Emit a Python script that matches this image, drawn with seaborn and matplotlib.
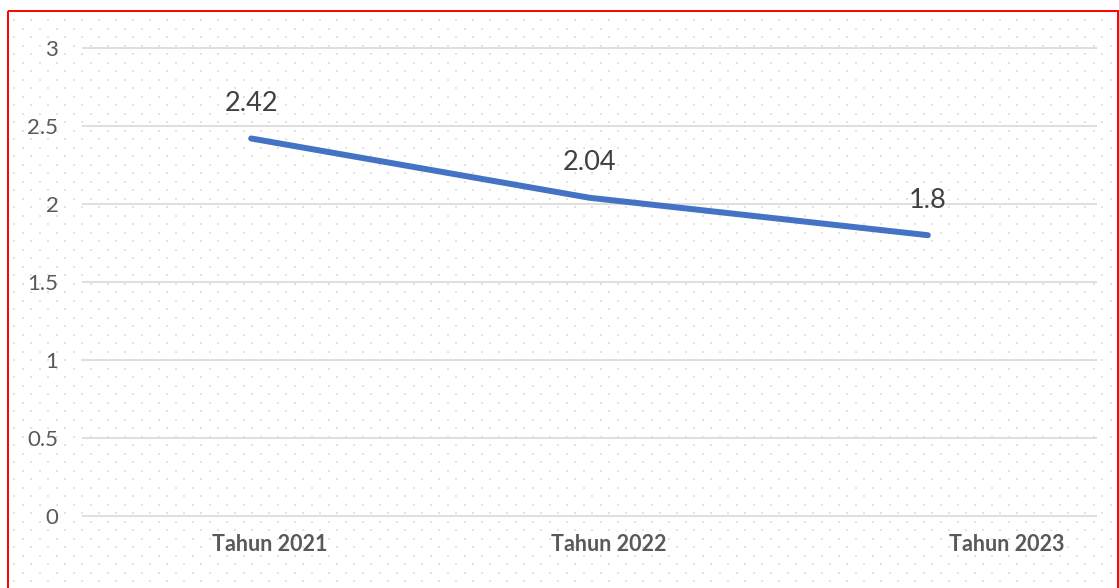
import numpy as np
import pandas as pd
import matplotlib
matplotlib.use("Agg")
import matplotlib.pyplot as plt
from matplotlib.patches import Rectangle
import seaborn as sns

# Data
categories = ["Tahun 2021", "Tahun 2022", "Tahun 2023"]
values = [2.42, 2.04, 1.8]
y_ticks = [0, 0.5, 1, 1.5, 2, 2.5, 3]
y_tick_labels = ["0", "0.5", "1", "1.5", "2", "2.5", "3"]

sns.set_theme(style="white")
plt.rcParams["font.family"] = ["Lato", "DejaVu Sans"]

W, H = 1119, 588
fig = plt.figure(figsize=(W / 100, H / 100), dpi=100)
fig.patch.set_facecolor("white")

# Background: faint dotted texture inside a red frame
bg = fig.add_axes([0, 0, 1, 1], zorder=0)
bg.set_xlim(0, W)
bg.set_ylim(H, 0)
bg.axis("off")
row_step, col_step = 8.5, 17.0
rows = np.arange(20, H + 10, row_step)
xs, ys = [], []
for i, ry in enumerate(rows):
    off = 0 if i % 2 == 0 else col_step / 2
    cx = np.arange(14 + off, 1112, col_step)
    xs.extend(cx)
    ys.extend([ry] * len(cx))
bg.scatter(xs, ys, s=2.6, color="#e2e2e2", marker="s", linewidths=0)
bg.add_patch(Rectangle((8, 11), 1110, 600, fill=False, edgecolor="#ff0000",
                       linewidth=1.4))

# Plot area
pad = 0.05
px_per_unit = (516 - 48) / 3
top_px = 48 - pad * px_per_unit
bot_px = 516 + pad * px_per_unit
left_px, right_px = 82, 1097
ax = fig.add_axes([left_px / W, 1 - bot_px / H, (right_px - left_px) / W,
                   (bot_px - top_px) / H], zorder=1)
ax.patch.set_alpha(0)

df = pd.DataFrame({"pos": np.arange(len(categories)), "value": values})
sns.lineplot(data=df, x="pos", y="value", ax=ax, color="#4472C4",
             linewidth=4.3, solid_capstyle="round", zorder=3)

for x, v in zip(df["pos"], df["value"]):
    ax.annotate(f"{v:g}", (x, v), xytext=(0, 35), textcoords="offset pixels",
                ha="center", va="center", fontsize=19.5, color="#404040")

ax.set_xlim(-0.5, 2.5)
ax.set_ylim(-pad, 3 + pad)
ax.set_yticks(y_ticks)
ax.set_yticklabels(y_tick_labels, fontsize=16, color="#595959")
ax.yaxis.grid(True, color="#d9d9d9", linewidth=1.2)
ax.set_axisbelow(True)

label_shift = [0.056, 0.056, 0.233]
ax.set_xticks([p + s for p, s in zip(df["pos"], label_shift)])
ax.set_xticklabels(categories, fontsize=15.5, fontweight="bold", color="#595959")
ax.tick_params(axis="y", length=0, pad=17)
ax.tick_params(axis="x", length=0, pad=7)
ax.set_xlabel("")
ax.set_ylabel("")
for s in ax.spines.values():
    s.set_visible(False)

fig.savefig("out.png", dpi=100)
